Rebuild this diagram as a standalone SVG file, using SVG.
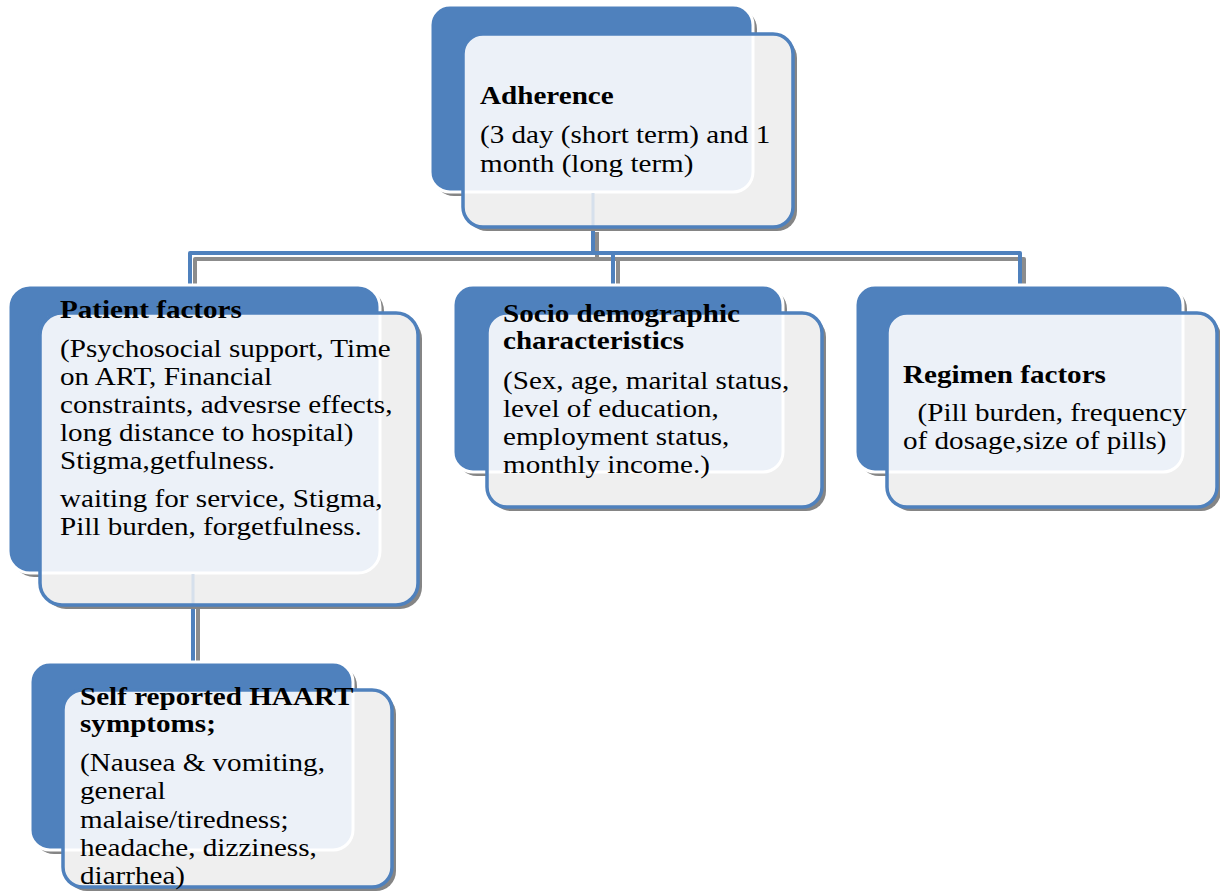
<svg xmlns="http://www.w3.org/2000/svg" width="1220" height="893" viewBox="0 0 1220 893">
<style>
.bg{fill:#ffffff}
.shadow{fill:#858585}
.back{fill:#4F81BD;stroke:#ffffff;stroke-width:3}
.frontfill{fill:#EFEFEF}
.overlay{fill:#ECF1F8;stroke:#ffffff;stroke-width:3}
.frontline{fill:none;stroke:#4F81BD;stroke-width:3.5}
.ghost{stroke:#D6E0EC;stroke-width:3;fill:none}
.t{font-family:"Liberation Serif","Times New Roman",serif;font-size:26px;fill:#000}
.b{font-weight:bold}
.conn{fill:none;stroke:#4F81BD;stroke-width:4;stroke-linejoin:round}
.connsh{fill:none;stroke:#8C8C8C;stroke-width:4;stroke-linejoin:round}
</style>
<defs>
<clipPath id="cA"><rect x="463" y="34" width="330" height="193" rx="20"/></clipPath>
<clipPath id="cP"><rect x="40" y="313" width="378" height="292" rx="20"/></clipPath>
<clipPath id="cS"><rect x="487" y="313" width="335" height="194" rx="20"/></clipPath>
<clipPath id="cR"><rect x="887" y="313" width="330" height="194" rx="20"/></clipPath>
<clipPath id="cH"><rect x="63" y="690" width="329" height="197" rx="20"/></clipPath>
</defs>
<rect class="bg" x="0" y="0" width="1220" height="893"/>

<g id="connectors">
<path class="connsh" d="M597,232 V259 M195,289 V259 H1024 V289 M618,259 V289 M198,609 V666"/>
<path class="conn" d="M593,226 V253 M190,284 V253 H1020 V284 M613,253 V284 M193,605 V662"/>
</g>

<g id="adherence">
<rect class="shadow" x="434" y="9" width="323" height="187" rx="20"/>
<rect class="back" x="430" y="5" width="323" height="187" rx="20"/>
<rect class="shadow" x="467" y="38" width="330" height="193" rx="20"/>
<rect class="frontfill" x="463" y="34" width="330" height="193" rx="20"/>
<rect class="overlay" clip-path="url(#cA)" x="430" y="5" width="323" height="187" rx="20"/>
<path class="ghost" clip-path="url(#cA)" d="M593,193 V226"/>
<rect class="frontline" x="463" y="34" width="330" height="193" rx="20"/>
<g transform="matrix(1.12 0 0 1 480 0)">
<text class="t b" x="0" y="104">Adherence</text>
<text class="t" x="0" y="143">(3 day (short term) and 1</text>
<text class="t" x="0" y="172">month (long term)</text>
</g>
</g>

<g id="patient">
<rect class="shadow" x="12" y="289" width="372" height="288" rx="22"/>
<rect class="back" x="8" y="285" width="372" height="288" rx="22"/>
<rect class="shadow" x="44" y="317" width="378" height="292" rx="22"/>
<rect class="frontfill" x="40" y="313" width="378" height="292" rx="22"/>
<rect class="overlay" clip-path="url(#cP)" x="8" y="285" width="372" height="288" rx="22"/>
<path class="ghost" clip-path="url(#cP)" d="M193,574 V605"/>
<rect class="frontline" x="40" y="313" width="378" height="292" rx="22"/>
<g transform="matrix(1.12 0 0 1 60 0)">
<text class="t b" x="0" y="318">Patient factors</text>
<text class="t" x="0" y="357">(Psychosocial support, Time</text>
<text class="t" x="0" y="385">on ART, Financial</text>
<text class="t" x="0" y="413">constraints, advesrse effects,</text>
<text class="t" x="0" y="441">long distance to hospital)</text>
<text class="t" x="0" y="469">Stigma,getfulness.</text>
<text class="t" x="0" y="507">waiting for service, Stigma,</text>
<text class="t" x="0" y="535">Pill burden, forgetfulness.</text>
</g>
</g>

<g id="socio">
<rect class="shadow" x="457" y="289" width="330" height="187" rx="20"/>
<rect class="back" x="453" y="285" width="330" height="187" rx="20"/>
<rect class="shadow" x="491" y="317" width="335" height="194" rx="20"/>
<rect class="frontfill" x="487" y="313" width="335" height="194" rx="20"/>
<rect class="overlay" clip-path="url(#cS)" x="453" y="285" width="330" height="187" rx="20"/>
<rect class="frontline" x="487" y="313" width="335" height="194" rx="20"/>
<g transform="matrix(1.12 0 0 1 503 0)">
<text class="t b" x="0" y="322">Socio demographic</text>
<text class="t b" x="0" y="349">characteristics</text>
<text class="t" x="0" y="389">(Sex, age, marital status,</text>
<text class="t" x="0" y="417">level of education,</text>
<text class="t" x="0" y="445">employment status,</text>
<text class="t" x="0" y="473">monthly income.)</text>
</g>
</g>

<g id="regimen">
<rect class="shadow" x="859" y="289" width="328" height="187" rx="20"/>
<rect class="back" x="855" y="285" width="328" height="187" rx="20"/>
<rect class="shadow" x="891" y="317" width="330" height="194" rx="20"/>
<rect class="frontfill" x="887" y="313" width="330" height="194" rx="20"/>
<rect class="overlay" clip-path="url(#cR)" x="855" y="285" width="328" height="187" rx="20"/>
<rect class="frontline" x="887" y="313" width="330" height="194" rx="20"/>
<g transform="matrix(1.12 0 0 1 903 0)">
<text class="t b" x="0" y="383">Regimen factors</text>
<text class="t" x="13" y="421">(Pill burden, frequency</text>
<text class="t" x="0" y="449">of dosage,size of pills)</text>
</g>
</g>

<g id="symptoms">
<rect class="shadow" x="34" y="666" width="323" height="188" rx="20"/>
<rect class="back" x="30" y="662" width="323" height="188" rx="20"/>
<rect class="shadow" x="67" y="694" width="329" height="197" rx="20"/>
<rect class="frontfill" x="63" y="690" width="329" height="197" rx="20"/>
<rect class="overlay" clip-path="url(#cH)" x="30" y="662" width="323" height="188" rx="20"/>
<rect class="frontline" x="63" y="690" width="329" height="197" rx="20"/>
<g transform="matrix(1.12 0 0 1 80 0)">
<text class="t b" x="0" y="705">Self reported HAART</text>
<text class="t b" x="0" y="732">symptoms;</text>
<text class="t" x="0" y="771">(Nausea &amp; vomiting,</text>
<text class="t" x="0" y="799">general</text>
<text class="t" x="0" y="828">malaise/tiredness;</text>
<text class="t" x="0" y="856">headache, dizziness,</text>
<text class="t" x="0" y="884">diarrhea)</text>
</g>
</g>
</svg>
